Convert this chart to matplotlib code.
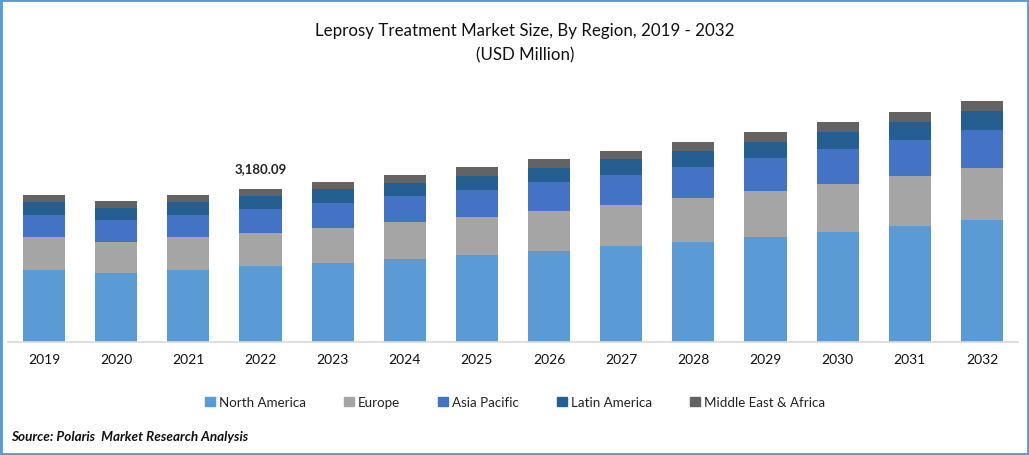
import matplotlib
matplotlib.use("Agg")
import matplotlib.pyplot as plt
from matplotlib.patches import Rectangle, Patch
import numpy as np

plt.rcParams['font.family'] = ['Lato', 'DejaVu Sans']

years = ['2019','2020','2021','2022','2023','2024','2025','2026','2027','2028','2029','2030','2031','2032']
north_america = [1498,1435,1498,1580,1643,1726,1810,1893,1997,2080,2184,2288,2413,2538]
europe = [686,645,686,686,728,770,790,832,853,915,957,998,1040,1082]
asia_pacific = [458,458,458,499,520,541,562,603,624,645,686,728,749,790]
latin_america = [270,250,270,270,291,270,291,291,333,333,333,354,374,395]
mea = [146,146,146,145,146,166,187,187,166,187,208,208,208,208]
series = [('North America', north_america, '#5B9BD5'),
          ('Europe', europe, '#A5A5A5'),
          ('Asia Pacific', asia_pacific, '#4472C4'),
          ('Latin America', latin_america, '#255E91'),
          ('Middle East & Africa', mea, '#636363')]
W, H = 1029, 456
fig = plt.figure(figsize=(W/100, H/100), dpi=100, facecolor='white')
ax = fig.add_axes([8/W, 1-343/H, 1010/W, 262/H])
x = np.arange(len(years))
bottom = np.zeros(len(years))
for name, vals, col in series:
    ax.bar(x, vals, width=0.585, bottom=bottom, color=col, label=name, linewidth=0)
    bottom += np.array(vals)
ax.set_xlim(-0.5, 13.5)
ax.set_ylim(0, 5446)
ax.set_yticks([])
for s in ['top','left','right']:
    ax.spines[s].set_visible(False)
ax.spines['bottom'].set_color('#D9D9D9')
ax.spines['bottom'].set_linewidth(1.2)
ax.set_xticks(x, years, fontsize=10, color='#111111')
ax.tick_params(axis='x', length=0, pad=8)
ax.annotate('3,180.09', (3, bottom[3]), xytext=(0, 11), textcoords='offset points',
            ha='center', va='bottom', fontsize=9.5, fontweight='bold', color='#222222')

fig.text(525/W, 1-31/H, 'Leprosy Treatment Market Size, By Region, 2019 - 2032', ha='center', va='center', fontsize=12.15, color='#111111')
fig.text(525/W, 1-55/H, '(USD Million)', ha='center', va='center', fontsize=12.15, color='#111111')
handles = [Patch(color=c, label=n) for n, _, c in series]
fig.legend(handles=handles, loc='center', bbox_to_anchor=(515/W, 1-403/H), ncol=5, frameon=False,
           fontsize=9.6, handlelength=0.7, handleheight=0.7, handletextpad=0.3, columnspacing=2.9,
           labelcolor='#222222')
fig.text(11/W, 1-437/H, 'Source: Polaris  Market Research Analysis', ha='left', va='center', fontsize=9.7,
         fontweight='bold', fontstyle='italic', color='#111111')
fig.add_artist(Rectangle((0, 0), 1, 1, transform=fig.transFigure, fill=False, edgecolor='#5B9BD5', linewidth=3.5))
fig.savefig('out.png', dpi=100)
